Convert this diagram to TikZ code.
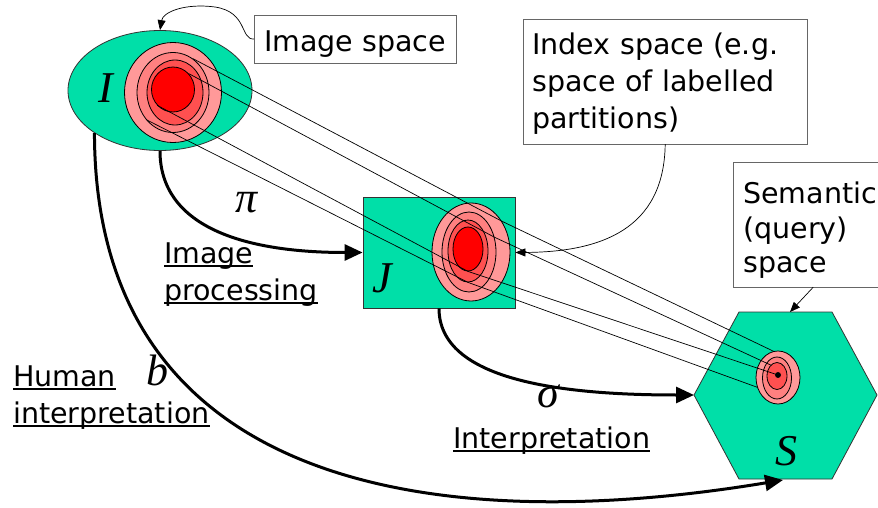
\documentclass[tikz,border=0pt]{standalone}
\usepackage{fontspec}
\setmainfont{DejaVu Sans}
\newfontfamily\mathletters{Liberation Serif}
\usetikzlibrary{arrows.meta,shapes.geometric}

\definecolor{spacegreen}{HTML}{00DFA8}
\definecolor{ringA}{HTML}{FF9999}
\definecolor{ringB}{HTML}{FF8080}
\definecolor{ringC}{HTML}{FF5050}
\definecolor{ringD}{HTML}{FF0000}

\newcommand{\ulabel}[1]{\sbox0{#1}\rlap{\rule[-3.5pt]{\wd0}{1.6pt}}\usebox0}

\begin{document}
\begin{tikzpicture}[x=1pt,y=-1pt]
\useasboundingbox (0,0) rectangle (878,508);

\tikzstyle{maparrow}=[line width=3pt,-{Triangle[length=18pt,width=16pt]}]
\tikzstyle{notearrow}=[line width=0.7pt,-{Triangle[length=10pt,width=8pt]}]

% Draw the image space, the index space and the semantic space
\tikzstyle{every node}=[draw=black!80,fill=spacegreen,inner sep=0pt,line width=0.8pt];
\node[ellipse,minimum width=184,minimum height=120] (I) at (160,90.5) {};
\node[rectangle,minimum width=152,minimum height=111] (J) at (439,252.5) {};

\coordinate (Sw) at (694,395);
\coordinate (Ss) at (783,480);
\coordinate (St) at (790,312);
\draw[draw=black!80,fill=spacegreen,line width=0.8pt]
  (739,312) -- (832,312) -- (877,395) -- (832,479) -- (739,479) -- (Sw) -- cycle;

% Nested regions in each space
\tikzstyle{every node}=[draw=black,ellipse,inner sep=0pt,line width=0.8pt];
\foreach \cx/\cy/\w/\h/\col [count=\idx] in {173/92.5/97/100/ringA,173/92.5/72/80/ringB,175/92.5/56/65/ringC,173/89.5/43/45/ringD}
  \node[fill=\col,minimum width=\w,minimum height=\h] (i\idx) at (\cx,\cy) {};

\foreach \cx/\cy/\w/\h/\col [count=\idx] in {471/252/78/98/ringA,469/252/54/80/ringB,468/251/40/62/ringC,468/249/30/44/ringD}
  \node[fill=\col,minimum width=\w,minimum height=\h] (j\idx) at (\cx,\cy) {};

\foreach \cx/\cy/\w/\h/\col [count=\idx] in {778/377.5/44/53/ringA,777/378/29/42/ringB,777/376/20/27/ringC}
  \node[fill=\col,minimum width=\w,minimum height=\h] (s\idx) at (\cx,\cy) {};
\node[circle,fill=black,minimum size=5] (sdot) at (778,375) {};

% Link the regions from one space to the next
\foreach \a/\b/\c in {i2.60/j1.45/s1.100,i4.45/j2.30/s3.120,i4.225/j4.south/sdot.center,i2.225/j3.south/s1.205}
  \draw[line width=0.7pt] (\a) -- (\b) -- (\c);

% The three mappings
\draw[maparrow] (I.south) .. controls (160,225) and (240,252.5) .. (J.west);
\draw[maparrow] (J.south) .. controls (439,380) and (560,395) .. (Sw);
\draw[maparrow] (I.213) .. controls (95,480) and (420,540) .. (Ss);

% Boxed notes
\tikzstyle{every node}=[draw=black!60,font=\fontsize{28.5}{37}\selectfont,inner ysep=0pt,anchor=base west];
\node[inner xsep=10pt,text height=36.7,text depth=11.3,minimum width=201] (imgbox) at (254,51.7) {Image space};
\node[inner xsep=9pt,text width=266,align=left,text height=36,text depth=89] (idxbox) at (523,55)
  {Index space (e.g.\\space of labelled\\partitions)};
\node[inner xsep=10pt,text width=140,align=left,text height=41,text depth=84,font=\fontsize{28.5}{35}\selectfont] (sembox) at (733,203)
  {Semantic\\(query)\\space};

\draw[notearrow] (imgbox.west) .. controls (240,40) and (248,12) .. (215,7) .. controls (185,3) and (163,12) .. (I.north);
\draw[notearrow] (idxbox.south) .. controls (664,230) and (600,252) .. (J.east);
\draw[notearrow] (sembox.south) -- (St);

% Names of the mappings (base is the last line here)
\tikzstyle{every node}=[font=\fontsize{28.5}{37}\selectfont,inner sep=0pt,anchor=base west,align=left];
\node (improc) at (164,300) {\ulabel{Image}\\\ulabel{processing}};
\node (human) at (13,423) {\ulabel{Human}\\\ulabel{interpretation}};
\node (interp) at (453,448) {\ulabel{Interpretation}};

\tikzstyle{every node}=[font=\fontsize{44}{44}\selectfont\mathletters\itshape,inner sep=0pt,anchor=base];
\node (Ilab) at (106,103) {I};
\node (Jlab) at (382,292) {J};
\node (Slab) at (786,465) {S};
\node (pilab) at (247,212) {π};
\node (sigmalab) at (548,407) {σ};
\node (blab) at (157,385) {b};

\end{tikzpicture}
\end{document}
